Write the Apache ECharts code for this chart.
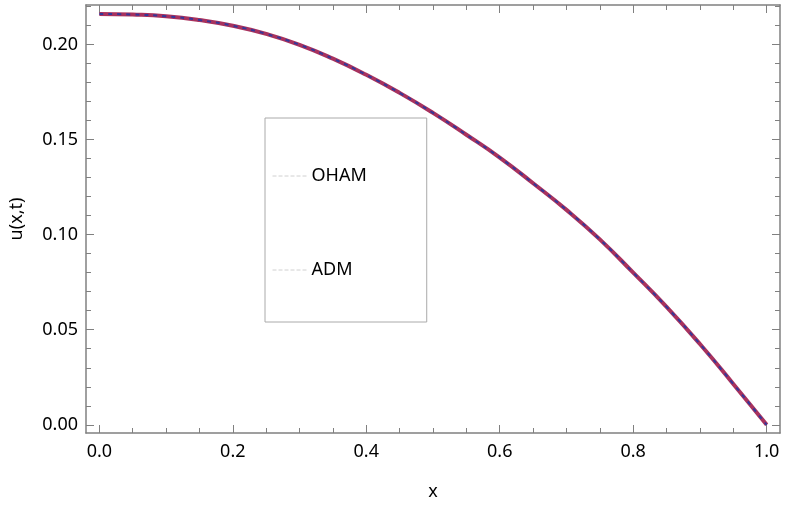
<!DOCTYPE html>
<html>
<head>
<meta charset="utf-8">
<script src="https://cdn.jsdelivr.net/npm/echarts@6/dist/echarts.min.js"></script>
<style>
  html, body { margin: 0; padding: 0; background: #fff; }
  #main { width: 785px; height: 506px; }
</style>
</head>
<body>
<div id="main"></div>
<script>
// x 取值
let xs = [0, 0.05, 0.1, 0.15, 0.2, 0.25, 0.3, 0.35, 0.4, 0.45, 0.5,
          0.55, 0.6, 0.65, 0.7, 0.75, 0.8, 0.85, 0.9, 0.95, 1.0];
// OHAM 解
let ohamVals = [0.216, 0.2157, 0.2148, 0.2128, 0.2098, 0.2055, 0.1998, 0.1925, 0.184, 0.1745, 0.164,
                0.1525, 0.1405, 0.127, 0.113, 0.0975, 0.080, 0.062, 0.0425, 0.0215, 0.0];
// ADM 解 (与 OHAM 几乎重合)
let admVals = [0.216, 0.2157, 0.2148, 0.2128, 0.2098, 0.2055, 0.1998, 0.1925, 0.184, 0.1745, 0.164,
               0.1525, 0.1405, 0.127, 0.113, 0.0975, 0.080, 0.062, 0.0425, 0.0215, 0.0];
// 刻度
let xMajor = [0, 0.2, 0.4, 0.6, 0.8, 1.0];
let xMinor = [0.05, 0.1, 0.15, 0.25, 0.3, 0.35, 0.45, 0.5, 0.55, 0.65, 0.7, 0.75, 0.85, 0.9, 0.95];
let yMajor = [0, 0.05, 0.1, 0.15, 0.2];
let yMinor = [0.01, 0.02, 0.03, 0.04, 0.06, 0.07, 0.08, 0.09, 0.11, 0.12, 0.13, 0.14,
              0.16, 0.17, 0.18, 0.19, 0.21, 0.22];

let chart = echarts.init(document.getElementById('main'));

let pairs = function (ys) {
    let res = [];
    for (let i = 0; i < xs.length; i++) {
        res.push([xs[i], ys[i]]);
    }
    return res;
};

let frameColor = '#808080';
let font = 'Noto Sans';

//生成一根坐标轴 (主刻度或次刻度)
function xAx(pos, ticks, len, main) {
    return {
        type: 'value', position: pos, min: -0.02, max: 1.02,
        axisLine: {show: main, onZero: false, lineStyle: {color: frameColor, width: 1.5}},
        axisTick: {show: true, inside: true, length: len, customValues: ticks,
                   lineStyle: {color: frameColor, width: 1}},
        axisLabel: {show: false},
        splitLine: {show: false}
    };
}
function yAx(pos, ticks, len, main) {
    return {
        type: 'value', position: pos, min: -0.0043, max: 0.2207,
        axisLine: {show: main, onZero: false, lineStyle: {color: frameColor, width: 1.5}},
        axisTick: {show: true, inside: true, length: len, customValues: ticks,
                   lineStyle: {color: frameColor, width: 1}},
        axisLabel: {show: false},
        splitLine: {show: false}
    };
}

let xBottom = xAx('bottom', xMajor, 8, true);
xBottom.axisLabel = {
    show: true, customValues: xMajor, margin: 10,
    color: '#000', fontFamily: font, fontSize: 18,
    formatter: function (v) { return v.toFixed(1); }
};
xBottom.name = 'x';
xBottom.nameLocation = 'middle';
xBottom.nameGap = 50;
xBottom.nameTextStyle = {color: '#000', fontFamily: font, fontSize: 18};

let yLeft = yAx('left', yMajor, 8, true);
yLeft.axisLabel = {
    show: true, customValues: yMajor, margin: 8,
    color: '#000', fontFamily: font, fontSize: 18,
    formatter: function (v) { return v.toFixed(2); }
};
yLeft.name = 'u(x,t)';
yLeft.nameLocation = 'middle';
yLeft.nameGap = 60;
yLeft.nameTextStyle = {color: '#000', fontFamily: font, fontSize: 18};

let option = {
    backgroundColor: '#fff',
    animation: false,
    grid: {left: 83, right: 5, top: 5, bottom: 70},
    xAxis: [
        xBottom,
        xAx('bottom', xMinor, 5, false),
        xAx('top', xMajor, 8, true),
        xAx('top', xMinor, 5, false)
    ],
    yAxis: [
        yLeft,
        yAx('left', yMinor, 5, false),
        yAx('right', yMajor, 8, true),
        yAx('right', yMinor, 5, false)
    ],
    legend: {
        orient: 'vertical',
        left: 265,
        top: 118,
        padding: [49, 60, 43, 7],
        itemGap: 76,
        itemWidth: 34,
        itemHeight: 14,
        borderColor: '#aaaaaa',
        borderWidth: 1,
        backgroundColor: '#fff',
        textStyle: {color: '#000', fontFamily: font, fontSize: 18},
        itemStyle: {color: 'rgba(0,0,0,0)', borderWidth: 0},
        lineStyle: {color: '#d0d0d0', width: 1, type: 'dashed'},
        data: ['OHAM', 'ADM']
    },
    series: [
        {
            name: 'OHAM',
            type: 'line',
            xAxisIndex: 0,
            yAxisIndex: 0,
            smooth: true,
            symbol: 'none',
            lineStyle: {color: '#a8325e', width: 4},
            data: pairs(ohamVals)
        },
        {
            name: 'ADM',
            type: 'line',
            xAxisIndex: 0,
            yAxisIndex: 0,
            smooth: true,
            symbol: 'none',
            lineStyle: {color: '#34389a', width: 2, type: [4, 5]},
            data: pairs(admVals)
        }
    ]
};
chart.setOption(option);
</script>
</body>
</html>
